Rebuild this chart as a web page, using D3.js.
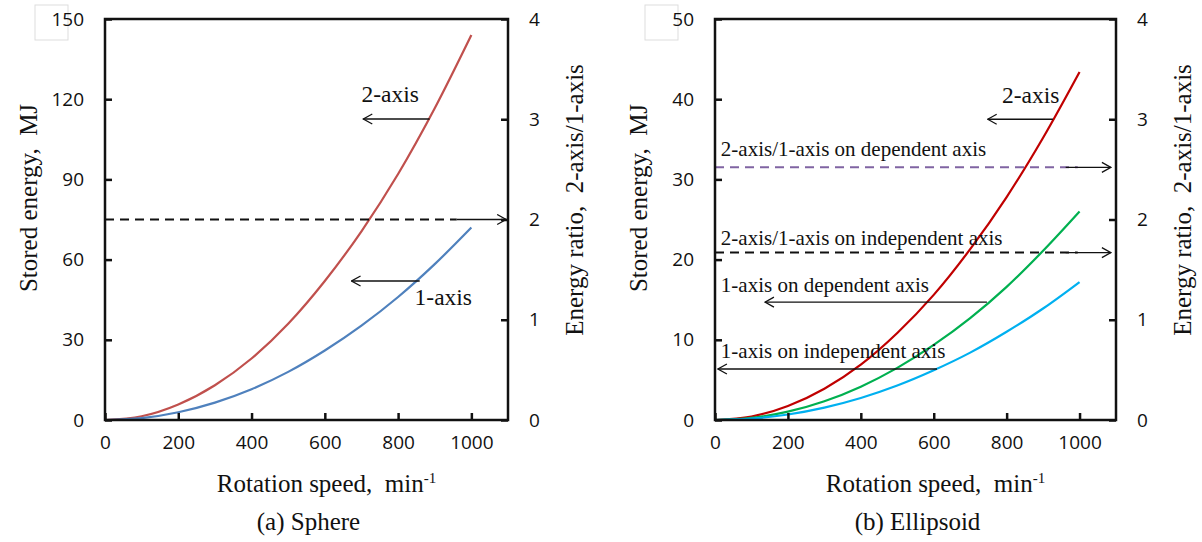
<!DOCTYPE html>
<html>
<head>
<meta charset="utf-8">
<script src="https://cdn.jsdelivr.net/npm/d3@7"></script>
<style>
  body { margin: 0; background: #fff; }
  .tick text { font-family: "Open Sans", sans-serif; font-size: 19px; fill: #111; }
  .serif { font-family: "Liberation Serif", "Times New Roman", serif; fill: #111; }
</style>
</head>
<body>
<div id="grafico"></div>
<script>
// rotação (min-1) e energia armazenada (MJ)
var speed = [0, 100, 200, 300, 400, 500, 600, 700, 800, 900, 1000];

// (a) esfera
var sphere2 = [0, 1.4, 5.8, 13, 23, 36, 52, 70.6, 92, 116.6, 144];
var sphere1 = [0, 0.7, 2.9, 6.5, 11.5, 18, 26, 35.3, 46, 58.3, 72];
var sphereRatio = 2;

// (b) elipsoide
var ell2 = [0, 0.43, 1.74, 3.9, 6.9, 10.85, 15.6, 21.3, 27.8, 35.2, 43.4];
var ell1dep = [0, 0.26, 1.04, 2.34, 4.16, 6.5, 9.36, 12.7, 16.6, 21.1, 26];
var ell1ind = [0, 0.17, 0.69, 1.55, 2.75, 4.3, 6.2, 8.4, 11, 13.9, 17.2];
var ratioDep = 2.52, ratioInd = 1.67;

var xTicks = [0, 200, 400, 600, 800, 1000];
var sphereTicks = [0, 30, 60, 90, 120, 150];
var ellTicks = [0, 10, 20, 30, 40, 50];
var ratioTicks = [0, 1, 2, 3, 4];

var width = 1202, height = 542;

var svg = d3.select("#grafico").append("svg")
    .attr("width", width)
    .attr("height", height);

svg.append("defs").append("marker")
    .attr("id", "seta")
    .attr("viewBox", "-11 -6 12 12")
    .attr("refX", 0).attr("refY", 0)
    .attr("markerWidth", 12).attr("markerHeight", 12)
    .attr("markerUnits", "userSpaceOnUse")
    .attr("orient", "auto-start-reverse")
  .append("path")
    .attr("d", "M-9,-5L0,0L-9,5")
    .attr("fill", "none")
    .attr("stroke", "#111")
    .attr("stroke-width", 1.3);

var fmt = d3.format("d");

function painel(cfg) {
  var x = d3.scaleLinear().domain([0, 1100]).range([cfg.left, cfg.right]);
  var y = d3.scaleLinear().domain([0, cfg.yMax]).range([420, 19]);
  var yr = d3.scaleLinear().domain([0, 4]).range([420, 19]);

  var g = svg.append("g");

  // caixinha cinza no canto
  g.append("rect")
    .attr("x", cfg.left - 70).attr("y", 5)
    .attr("width", 33).attr("height", 35)
    .attr("fill", "none").attr("stroke", "#ddd");

  var linha = d3.line()
    .x(function(d, i) { return x(speed[i]); })
    .y(function(d) { return y(d); })
    .curve(d3.curveMonotoneX);

  cfg.series.forEach(function(s) {
    g.append("path")
      .attr("d", linha(s.values))
      .attr("fill", "none")
      .attr("stroke", s.color)
      .attr("stroke-width", 2.2);
  });

  // linhas de razão (tracejadas) com seta para o eixo direito
  cfg.ratios.forEach(function(r) {
    g.append("line")
      .attr("x1", x(0)).attr("x2", x(r.dashEnd))
      .attr("y1", yr(r.value)).attr("y2", yr(r.value))
      .attr("stroke", r.color).attr("stroke-width", 2)
      .attr("stroke-dasharray", "9,6");
    g.append("line")
      .attr("x1", x(r.arrowFrom)).attr("x2", x(r.arrowTo))
      .attr("y1", yr(r.value)).attr("y2", yr(r.value))
      .attr("stroke", "#111").attr("stroke-width", 1.3)
      .attr("marker-end", "url(#seta)");
  });

  // setas horizontais
  cfg.arrows.forEach(function(a) {
    g.append("line")
      .attr("x1", x(a.to)).attr("x2", x(a.from))
      .attr("y1", y(a.y)).attr("y2", y(a.y))
      .attr("stroke", "#111").attr("stroke-width", 1.3)
      .attr("marker-start", "url(#seta)");
  });

  cfg.labels.forEach(function(l) {
    g.append("text")
      .attr("class", "serif")
      .attr("x", x(l.x)).attr("y", y(l.y))
      .attr("font-size", l.size + "px")
      .text(l.text);
  });

  // eixos
  g.append("g")
    .attr("transform", "translate(0,420)")
    .call(d3.axisBottom(x).tickValues(xTicks).tickFormat(fmt).tickSizeInner(-7).tickSizeOuter(0).tickPadding(16))
    .call(function(a) { a.select(".domain").remove(); });
  g.append("g")
    .attr("transform", "translate(" + cfg.left + ",0)")
    .call(d3.axisLeft(y).tickValues(cfg.yTicks).tickFormat(fmt).tickSizeInner(-7).tickSizeOuter(0).tickPadding(21))
    .call(function(a) { a.select(".domain").remove(); });
  g.append("g")
    .attr("transform", "translate(" + cfg.right + ",0)")
    .call(d3.axisRight(yr).tickValues(ratioTicks).tickFormat(fmt).tickSizeInner(-7).tickSizeOuter(0).tickPadding(21))
    .call(function(a) { a.select(".domain").remove(); });
  g.selectAll(".tick line").attr("stroke", "#111").attr("stroke-width", 2.5);

  g.append("rect")
    .attr("x", cfg.left).attr("y", 19)
    .attr("width", cfg.right - cfg.left).attr("height", 401)
    .attr("fill", "none").attr("stroke", "#111").attr("stroke-width", 2.5);

  // títulos
  var xt = g.append("text").attr("class", "serif")
    .attr("x", (cfg.left + cfg.right) / 2 + 20).attr("y", 492)
    .attr("text-anchor", "middle").attr("font-size", "25px");
  xt.append("tspan").text("Rotation speed,\u00a0\u00a0min");
  xt.append("tspan").attr("dy", -9).attr("font-size", "15px").text("-1");

  g.append("text").attr("class", "serif")
    .attr("transform", "translate(" + (cfg.left - 68) + ",198) rotate(-90)")
    .attr("text-anchor", "middle").attr("font-size", "25px")
    .text("Stored energy,\u00a0\u00a0MJ");

  g.append("text").attr("class", "serif")
    .attr("transform", "translate(" + (cfg.right + 75) + ",200) rotate(-90)")
    .attr("text-anchor", "middle").attr("font-size", "25px")
    .text("Energy ratio,\u00a0\u00a02-axis/1-axis");

  g.append("text").attr("class", "serif")
    .attr("x", (cfg.left + cfg.right) / 2 + 2).attr("y", 530)
    .attr("text-anchor", "middle").attr("font-size", "25px")
    .text(cfg.caption);
}

painel({
  left: 105, right: 508, yMax: 150, yTicks: sphereTicks,
  caption: "(a) Sphere",
  series: [
    { values: sphere2, color: "#C0504D" },
    { values: sphere1, color: "#4F81BD" }
  ],
  ratios: [
    { value: sphereRatio, color: "#111", dashEnd: 960, arrowFrom: 960, arrowTo: 1095 }
  ],
  arrows: [
    { from: 886, to: 705, y: 112.6 },
    { from: 859, to: 673, y: 52 }
  ],
  labels: [
    { text: "2-axis", x: 700, y: 119, size: 23.5 },
    { text: "1-axis", x: 845, y: 43, size: 23.5 }
  ]
});

painel({
  left: 715, right: 1116, yMax: 50, yTicks: ellTicks,
  caption: "(b) Ellipsoid",
  series: [
    { values: ell2, color: "#C00000" },
    { values: ell1dep, color: "#00B050" },
    { values: ell1ind, color: "#00B0F0" }
  ],
  ratios: [
    { value: ratioDep, color: "#8064A2", dashEnd: 995, arrowFrom: 962, arrowTo: 1086 },
    { value: ratioInd, color: "#111", dashEnd: 995, arrowFrom: 962, arrowTo: 1086 }
  ],
  arrows: [
    { from: 927, to: 748, y: 37.5 },
    { from: 746, to: 137, y: 14.7 },
    { from: 609, to: 8, y: 6.36 }
  ],
  labels: [
    { text: "2-axis", x: 787, y: 39.5, size: 23.5 },
    { text: "2-axis/1-axis on dependent axis", x: 16, y: 32.9, size: 21 },
    { text: "2-axis/1-axis on independent axis", x: 16, y: 21.8, size: 21 },
    { text: "1-axis on dependent axis", x: 16, y: 16, size: 21 },
    { text: "1-axis on independent axis", x: 16, y: 7.7, size: 21 }
  ]
});
</script>
</body>
</html>
